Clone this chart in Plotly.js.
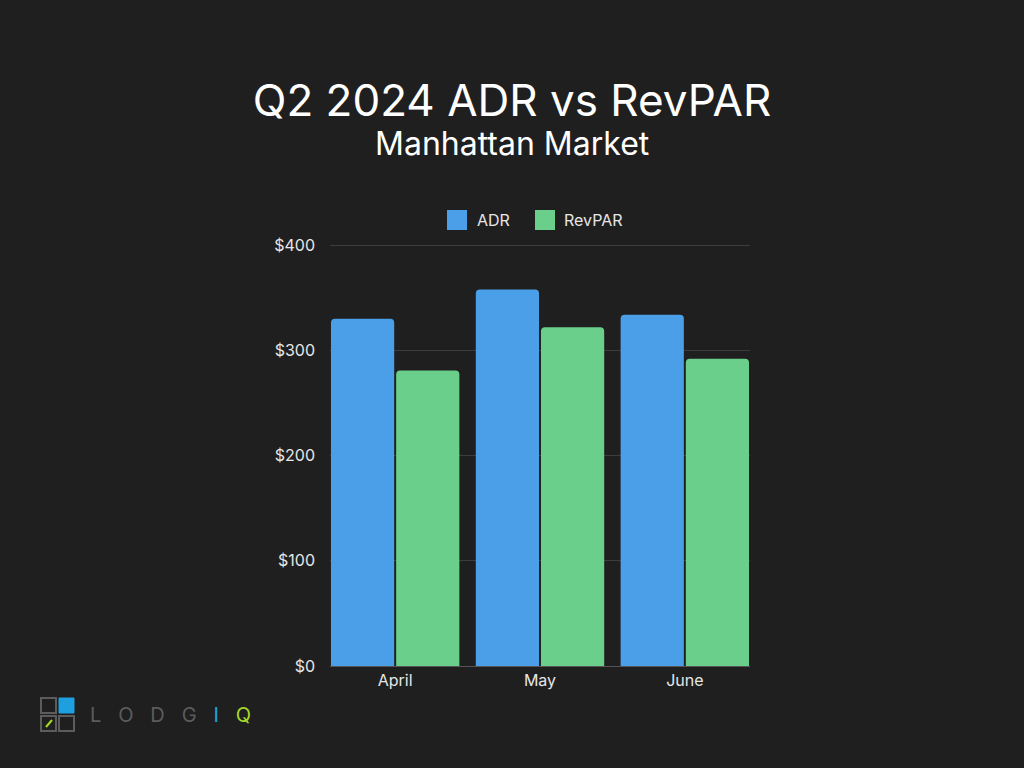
<!DOCTYPE html>
<html>
<head>
<meta charset="utf-8">
<script src="https://cdn.plot.ly/plotly-3.0.1.min.js"></script>
<style>
html,body{margin:0;padding:0;background:#1f1f1f;}
#chart{width:1024px;height:768px;}
</style>
</head>
<body>
<div id="chart"></div>
<script>
const months = ["April", "May", "June"];
const adr = [330, 358, 334];
const revpar = [281, 322, 292];
const yTicks = [0, 100, 200, 300, 400];
const yTickLabels = ["$0", "$100", "$200", "$300", "$400"];
const seriesNames = ["ADR", "RevPAR"];
const seriesColors = ["#4a9fe8", "#69cf8a"];

const FONT = "Inter, 'Open Sans', sans-serif";

const traces = [
  {type: "bar", name: seriesNames[0], x: months, y: adr, marker: {color: seriesColors[0]}, hoverinfo: "skip"},
  {type: "bar", name: seriesNames[1], x: months, y: revpar, marker: {color: seriesColors[1]}, hoverinfo: "skip"}
];

// plot area: x 330..750, y 241..666 (range 0..404 so the $400 grid line sits inside)
const T = 241, B = 666, L = 330, R = 750;
const px = v => (v - L) / (R - L);
const py = v => (B - v) / (B - T);

const grey = "#5c5c5c";
const layout = {
  width: 1024, height: 768,
  paper_bgcolor: "#1f1f1f", plot_bgcolor: "#1f1f1f",
  margin: {l: L, r: 1024 - R, t: T, b: 768 - B},
  barmode: "group", bargap: 0.1, bargroupgap: 0.03,
  barcornerradius: 4,
  showlegend: false,
  font: {family: FONT, color: "#e6e6e6", size: 14},
  title: {text: "Q2 2024 ADR vs RevPAR", x: 0.5, xanchor: "center", xref: "container",
          y: 1 - 101/768, yanchor: "middle", yref: "container",
          font: {family: FONT, size: 44, color: "#ffffff"}},
  xaxis: {type: "category", range: [-0.45, 2.45], showgrid: false, zeroline: false,
          showline: true, linecolor: "#555", linewidth: 1, ticks: "",
          tickfont: {size: 16, color: "#e6e6e6"}, fixedrange: true},
  yaxis: {range: [0, 404], tickvals: yTicks, ticktext: yTickLabels, showgrid: true,
          gridcolor: "#3d3d3d", gridwidth: 1, zeroline: false, showline: false,
          ticks: "", ticklabelstandoff: 14, tickfont: {size: 16, color: "#e6e6e6"}, fixedrange: true},
  annotations: [
    {text: "Manhattan Market", xref: "paper", yref: "paper", x: px(512), y: py(143),
     xanchor: "center", yanchor: "middle", showarrow: false,
     font: {family: FONT, size: 32, color: "#ffffff"}},
    {text: seriesNames[0], xref: "paper", yref: "paper", x: px(475), y: py(220), xanchor: "left", yanchor: "middle",
     showarrow: false, font: {family: FONT, size: 16, color: "#e6e6e6"}},
    {text: seriesNames[1], xref: "paper", yref: "paper", x: px(562), y: py(220), xanchor: "left", yanchor: "middle",
     showarrow: false, font: {family: FONT, size: 16, color: "#e6e6e6"}},
    {text: "L   O   D   G   <span style='color:#1ea0e0'>I</span>   <span style='color:#a6d92b'>Q</span>",
     xref: "paper", yref: "paper", x: px(88), y: py(715), xanchor: "left", yanchor: "middle",
     showarrow: false, font: {family: FONT, size: 20, color: grey}}
  ],
  shapes: [
    {type: "rect", xref: "paper", yref: "paper", x0: px(447), x1: px(467), y0: py(230), y1: py(210), line: {width: 0}, fillcolor: seriesColors[0]},
    {type: "rect", xref: "paper", yref: "paper", x0: px(535), x1: px(555), y0: py(230), y1: py(210), line: {width: 0}, fillcolor: seriesColors[1]},
    {type: "rect", xref: "paper", yref: "paper", x0: px(41), x1: px(56), y0: py(713), y1: py(698), line: {color: grey, width: 2}, fillcolor: "rgba(0,0,0,0)"},
    {type: "rect", xref: "paper", yref: "paper", x0: px(59), x1: px(74), y0: py(713), y1: py(698), line: {color: "#1ea0e0", width: 1}, fillcolor: "#1ea0e0"},
    {type: "rect", xref: "paper", yref: "paper", x0: px(41), x1: px(56), y0: py(731), y1: py(716), line: {color: grey, width: 2}, fillcolor: "rgba(0,0,0,0)"},
    {type: "rect", xref: "paper", yref: "paper", x0: px(59), x1: px(74), y0: py(731), y1: py(716), line: {color: grey, width: 2}, fillcolor: "rgba(0,0,0,0)"},
    {type: "line", xref: "paper", yref: "paper", x0: px(46), x1: px(52), y0: py(727), y1: py(720), line: {color: "#a6d92b", width: 2}}
  ]
};

Plotly.newPlot("chart", traces, layout, {displayModeBar: false, staticPlot: true});
</script>
</body>
</html>
